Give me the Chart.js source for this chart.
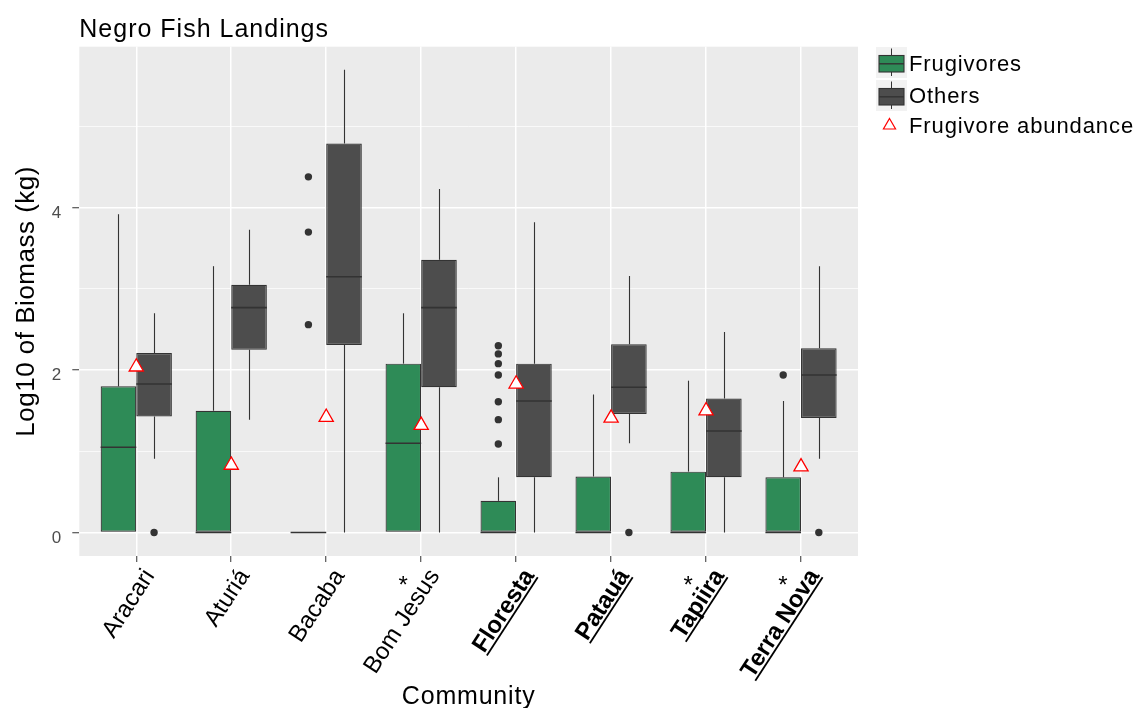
<!DOCTYPE html>
<html>
<head>
<meta charset="utf-8">
<script src="https://cdn.jsdelivr.net/npm/chart.js@4/dist/chart.umd.min.js"></script>
<style>
html,body{margin:0;padding:0;background:#ffffff;}
canvas{display:block;}
</style>
</head>
<body>
<canvas id="c" width="1137" height="708"></canvas>
<script>
// ---------------- data ----------------
const categories = ["Aracari", "Aturiá", "Bacaba", "Bom Jesus", "Floresta", "Patauá", "Tapiira", "Terra Nova"];
const boldLabel  = [false, false, false, false, true, true, true, true];
const starLabel  = [false, false, false, true, false, false, true, true];

// Frugivores box statistics (log10 kg)
const frugMin = [0, 0, 0, 0, 0, 0, 0, 0];
const frugQ1  = [0, 0, 0, 0, 0, 0, 0, 0];
const frugMed = [1.05, 0, 0, 1.10, 0, 0, 0, 0];
const frugQ3  = [1.80, 1.50, 0, 2.08, 0.39, 0.69, 0.75, 0.68];
const frugMax = [3.92, 3.28, 0, 2.70, 0.68, 1.70, 1.87, 1.62];
const frugOutliers = [[], [], [4.38, 3.70, 2.56], [], [2.30, 2.20, 2.08, 1.94, 1.61, 1.39, 1.09], [], [], [1.94]];

// Others box statistics (log10 kg)
const othMin = [0.91, 1.39, 0, 0, 0, 1.10, 0, 0.91];
const othQ1  = [1.43, 2.25, 2.31, 1.79, 0.68, 1.46, 0.68, 1.41];
const othMed = [1.83, 2.77, 3.15, 2.77, 1.62, 1.79, 1.25, 1.94];
const othQ3  = [2.21, 3.05, 4.79, 3.36, 2.08, 2.32, 1.65, 2.27];
const othMax = [2.70, 3.73, 5.70, 4.23, 3.82, 3.16, 2.47, 3.28];
const othOutliers = [[0], [], [], [], [], [0], [], [0]];

// Frugivore abundance markers
const frugAbundance = [2.04, 0.83, 1.42, 1.32, 1.83, 1.41, 1.50, 0.81];

const yTicks = [0, 1, 2, 3, 4, 5];
const yTickLabels = ["0", "", "2", "", "4", ""];

const chartTitle = "Negro Fish Landings";
const xTitle = "Community";
const yTitle = "Log10 of Biomass (kg)";
const legendLabels = ["Frugivores", "Others", "Frugivore abundance"];

// ---------------- styling ----------------
const FONT = '"Liberation Sans", Arial, Helvetica, sans-serif';
const GREEN = '#2E8B57';
const DARK = '#4D4D4D';
const LINE = '#333333';
const DODGE = 0.1875;

function boxDataset(label, q1, q3, mn, md, mx, fill) {
  return {
    type: 'bar',
    label: label,
    data: categories.map((_, i) => ({ x: i + 1, y: [q1[i], q3[i]] })),
    backgroundColor: fill,
    borderColor: LINE,
    borderWidth: 1.2,
    borderSkipped: false,
    categoryPercentage: 0.75,
    barPercentage: 1.0,
    order: 2,
    boxStats: { min: mn, med: md, max: mx, q1: q1, q3: q3 }
  };
}
function outlierPoints(arr, off) {
  return arr.flatMap((vals, i) => vals.map(v => ({ x: i + 1 + off, y: v })));
}

function drawText(ctx, s, x, y, o) {
  ctx.save();
  ctx.translate(x, y);
  if (o.rot) ctx.rotate(o.rot);
  ctx.font = (o.weight || 'normal') + ' ' + o.size + 'px ' + FONT;
  ctx.fillStyle = o.color || '#000000';
  ctx.textAlign = o.align || 'left';
  ctx.textBaseline = o.baseline || 'alphabetic';
  if ('letterSpacing' in ctx) ctx.letterSpacing = (o.spacing || 0) + 'px';
  ctx.fillText(s, 0, 0);
  let w = ctx.measureText(s).width;
  if (o.underline) {
    ctx.fillRect(-w, 2.2, w, 1.8);
  }
  ctx.restore();
  return w;
}

const deco = {
  id: 'deco',
  beforeDraw(chart) {
    const { ctx, chartArea: a } = chart;
    ctx.save();
    ctx.fillStyle = '#EBEBEB';
    ctx.fillRect(a.left, a.top, a.right - a.left, a.bottom - a.top);
    ctx.restore();
  },
  beforeDatasetDraw(chart, args) {
    const ds = chart.data.datasets[args.index];
    if (!ds.boxStats) return;
    const ctx = chart.ctx, ys = chart.scales.y, st = ds.boxStats;
    ctx.save();
    ctx.strokeStyle = LINE;
    ctx.lineWidth = 1.1;
    args.meta.data.forEach((el, i) => {
      const p = el.getProps(['x', 'width'], true);
      const x = Math.round(p.x) + 0.5;
      ctx.beginPath();
      ctx.moveTo(x, ys.getPixelForValue(st.q3[i]));
      ctx.lineTo(x, ys.getPixelForValue(st.max[i]));
      ctx.moveTo(x, ys.getPixelForValue(st.q1[i]));
      ctx.lineTo(x, ys.getPixelForValue(st.min[i]));
      ctx.stroke();
    });
    ctx.restore();
  },
  afterDatasetDraw(chart, args) {
    const ds = chart.data.datasets[args.index];
    if (!ds.boxStats) return;
    const ctx = chart.ctx, ys = chart.scales.y, st = ds.boxStats;
    ctx.save();
    ctx.strokeStyle = LINE;
    ctx.lineWidth = 1.6;
    args.meta.data.forEach((el, i) => {
      const p = el.getProps(['x', 'width'], true);
      const y = ys.getPixelForValue(st.med[i]);
      ctx.beginPath();
      ctx.moveTo(p.x - p.width / 2, y);
      ctx.lineTo(p.x + p.width / 2, y);
      ctx.stroke();
    });
    ctx.restore();
  },
  afterDraw(chart) {
    const ctx = chart.ctx, a = chart.chartArea, xs = chart.scales.x;
    // title
    drawText(ctx, chartTitle, a.left, 37, { size: 25, spacing: 1 });
    // axis titles
    drawText(ctx, xTitle, (a.left + a.right) / 2, 704, { size: 25, align: 'center', spacing: 0.8 });
    drawText(ctx, yTitle, 33.5, (a.top + a.bottom) / 2, { size: 26, align: 'center', rot: -Math.PI / 2, spacing: 0.5 });
    // x tick labels
    const ang = -57 * Math.PI / 180;
    categories.forEach((c, i) => {
      const px = xs.getPixelForValue(i + 1);
      drawText(ctx, c, px + 19, 575.5, {
        size: 24, rot: ang, align: 'right',
        weight: boldLabel[i] ? 'bold' : 'normal',
        underline: boldLabel[i]
      });
      if (starLabel[i]) {
        ctx.save();
        ctx.font = 'normal 24px ' + FONT;
        const m = ctx.measureText('*');
        const base = 580 + (m.actualBoundingBoxAscent - m.actualBoundingBoxDescent) / 2;
        ctx.restore();
        drawText(ctx, '*', px - 18, base, { size: 24, align: 'center' });
      }
    });
    // legend
    ctx.save();
    const keyX = 876, keyW = 31;
    [[47, GREEN], [80, DARK]].forEach(([ky, fill]) => {
      ctx.fillStyle = '#F2F2F2';
      ctx.fillRect(keyX, ky, keyW, keyW);
      ctx.strokeStyle = LINE;
      ctx.lineWidth = 1;
      ctx.beginPath();
      ctx.moveTo(891.5, ky + 1.5); ctx.lineTo(891.5, ky + 29);
      ctx.stroke();
      ctx.fillStyle = fill;
      ctx.fillRect(879, ky + 8.5, 25, 16.5);
      ctx.lineWidth = 1.1;
      ctx.strokeRect(879, ky + 8.5, 25, 16.5);
      ctx.lineWidth = 1.4;
      ctx.beginPath();
      ctx.moveTo(879, ky + 16.8); ctx.lineTo(904, ky + 16.8);
      ctx.stroke();
    });
    ctx.restore();
    ctx.save();
    ctx.strokeStyle = '#FF0000';
    ctx.fillStyle = '#FFFFFF';
    ctx.lineWidth = 1.2;
    Chart.helpers.drawPoint(ctx, { pointStyle: 'triangle', radius: 7, borderWidth: 1.2 }, 889.5, 125.5);
    ctx.restore();
    drawText(ctx, legendLabels[0], 909, 70.7, { size: 22, spacing: 0.9 });
    drawText(ctx, legendLabels[1], 909, 103, { size: 22, spacing: 0.9 });
    drawText(ctx, legendLabels[2], 909, 132.7, { size: 22, spacing: 0.9 });
  }
};

const chart = new Chart(document.getElementById('c'), {
  type: 'bar',
  data: {
    datasets: [
      {
        type: 'scatter', label: legendLabels[2],
        data: frugAbundance.map((v, i) => ({ x: i + 1, y: v })),
        pointStyle: 'triangle', pointRadius: 8.2,
        borderColor: '#FF0000', backgroundColor: '#FFFFFF', borderWidth: 1.3,
        order: 0
      },
      {
        type: 'scatter', label: 'Frugivore outliers',
        data: outlierPoints(frugOutliers, -DODGE),
        pointStyle: 'circle', pointRadius: 3.7,
        backgroundColor: LINE, borderColor: LINE, borderWidth: 0,
        order: 1
      },
      {
        type: 'scatter', label: 'Others outliers',
        data: outlierPoints(othOutliers, DODGE),
        pointStyle: 'circle', pointRadius: 3.7,
        backgroundColor: LINE, borderColor: LINE, borderWidth: 0,
        order: 1
      },
      boxDataset(legendLabels[0], frugQ1, frugQ3, frugMin, frugMed, frugMax, GREEN),
      boxDataset(legendLabels[1], othQ1, othQ3, othMin, othMed, othMax, DARK)
    ]
  },
  options: {
    responsive: false,
    devicePixelRatio: 1,
    animation: false,
    events: [],
    layout: { padding: { top: 46.7, right: 279, bottom: 0, left: 0 } },
    plugins: { legend: { display: false }, title: { display: false }, tooltip: { enabled: false } },
    scales: {
      x: {
        type: 'linear', min: 0.4, max: 8.6, offset: false,
        afterBuildTicks: s => { s.ticks = categories.map((_, i) => ({ value: i + 1 })); },
        afterFit: s => { s.height = 152; },
        ticks: { display: false },
        grid: { offset: false, color: '#FFFFFF', lineWidth: 1.5, drawTicks: true, tickLength: 6, tickColor: LINE, tickWidth: 1 },
        border: { display: false }
      },
      y: {
        type: 'linear', min: -0.289, max: 5.983,
        afterBuildTicks: s => { s.ticks = yTicks.map(v => ({ value: v })); },
        afterFit: s => { s.width = 79.3; },
        ticks: {
          autoSkip: false,
          callback: (v, i) => yTickLabels[i],
          font: { family: FONT, size: 17 },
          color: '#4D4D4D',
          padding: 11,
          labelOffset: 5.5
        },
        grid: {
          color: '#FFFFFF',
          lineWidth: c => (c.tick && c.tick.value % 2 === 0) ? 1.5 : 0.7,
          drawTicks: true, tickLength: 7, tickWidth: 1,
          tickColor: c => (c.tick && c.tick.value % 2 === 0) ? LINE : 'rgba(0,0,0,0)'
        },
        border: { display: false }
      }
    }
  },
  plugins: [deco]
});
</script>
</body>
</html>
